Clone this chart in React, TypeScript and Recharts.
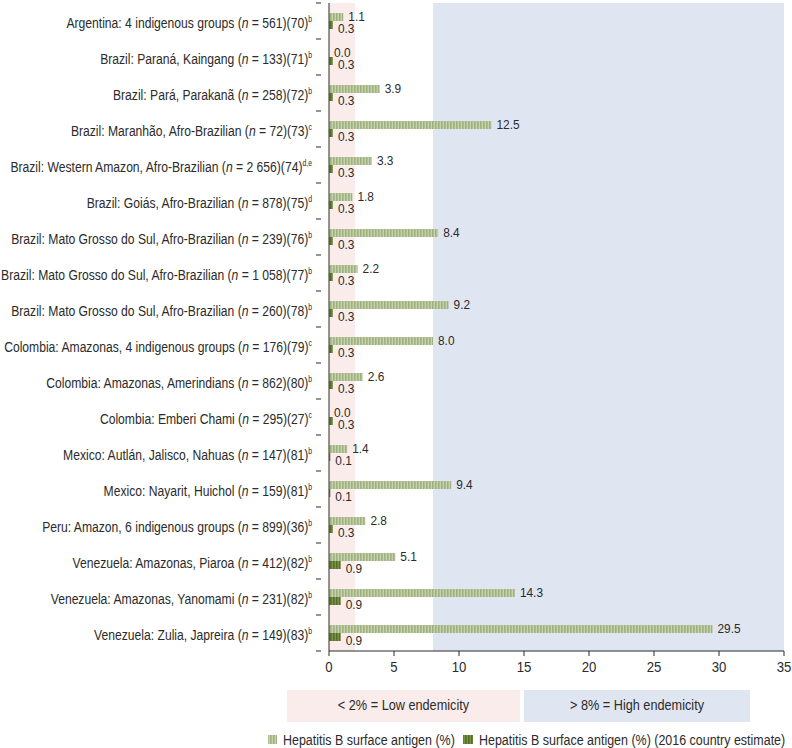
import React from "react";
import { BarChart, Bar, XAxis, YAxis, ReferenceArea, LabelList } from "recharts";

const sites = [
  "Argentina: 4 indigenous groups",
  "Brazil: Paraná, Kaingang",
  "Brazil: Pará, Parakanã",
  "Brazil: Maranhão, Afro-Brazilian",
  "Brazil: Western Amazon, Afro-Brazilian",
  "Brazil: Goiás, Afro-Brazilian",
  "Brazil: Mato Grosso do Sul, Afro-Brazilian",
  "Brazil: Mato Grosso do Sul, Afro-Brazilian",
  "Brazil: Mato Grosso do Sul, Afro-Brazilian",
  "Colombia: Amazonas, 4 indigenous groups",
  "Colombia: Amazonas, Amerindians",
  "Colombia: Emberi Chami",
  "Mexico: Autlán, Jalisco, Nahuas",
  "Mexico: Nayarit, Huichol",
  "Peru: Amazon, 6 indigenous groups",
  "Venezuela: Amazonas, Piaroa",
  "Venezuela: Amazonas, Yanomami",
  "Venezuela: Zulia, Japreira",
];
const sampleSizes = ["561", "133", "258", "72", "2 656", "878", "239", "1 058", "260", "176", "862", "295", "147", "159", "899", "412", "231", "149"];
const refs = ["70", "71", "72", "73", "74", "75", "76", "77", "78", "79", "80", "27", "81", "81", "36", "82", "82", "83"];
const notes = ["b", "b", "b", "c", "d,e", "d", "b", "b", "b", "c", "b", "c", "b", "b", "b", "b", "b", "b"];
const hbsag = [1.1, 0.0, 3.9, 12.5, 3.3, 1.8, 8.4, 2.2, 9.2, 8.0, 2.6, 0.0, 1.4, 9.4, 2.8, 5.1, 14.3, 29.5];
const countryEstimate = [0.3, 0.3, 0.3, 0.3, 0.3, 0.3, 0.3, 0.3, 0.3, 0.3, 0.3, 0.3, 0.1, 0.1, 0.3, 0.9, 0.9, 0.9];
const xTicks = [0, 5, 10, 15, 20, 25, 30, 35];
const lowBand = [0, 2];
const highBand = [8, 35];
const bandLabels = ["< 2% = Low endemicity", "> 8% = High endemicity"];
const seriesNames = ["Hepatitis B surface antigen (%)", "Hepatitis B surface antigen (%) (2016 country estimate)"];

const data = sites.map((s, i) => ({
  key: `${s} (n = ${sampleSizes[i]})(${refs[i]})`,
  hbsag: hbsag[i],
  est: countryEstimate[i],
}));

const FONT = '"Liberation Sans", Arial, sans-serif';
const TEXT = "#2b2b2b";
const PINK = "#f9ecea";
const BLUE = "#dfe6f2";
const CHART_H = 690;
const TOP = 3;
const X_AXIS_H = 39;
const BAND = (CHART_H - TOP - X_AXIS_H) / sites.length;

// condensed text: the original uses a narrow Helvetica, so squeeze Liberation Sans
const Narrow = ({ x, y, anchor = "start", size = 14, squeeze = 0.86, children }: any) => (
  <text transform={`translate(${x},${y}) scale(${squeeze},1)`} textAnchor={anchor} fontSize={size} fill={TEXT} fontFamily={FONT}>
    {children}
  </text>
);

const SiteTick = (props: any) => {
  const { x, y, index } = props;
  const last = index === sites.length - 1;
  return (
    <g>
      <line x1={x - 5} x2={x} y1={y - BAND / 2} y2={y - BAND / 2} stroke={TEXT} />
      {last && <line x1={x - 5} x2={x} y1={y + BAND / 2} y2={y + BAND / 2} stroke={TEXT} />}
      <Narrow x={x - 9} y={y + 7} anchor="end" size={15} squeeze={0.81}>
        <tspan>{sites[index]} (</tspan>
        <tspan fontStyle="italic">n</tspan>
        <tspan> = {sampleSizes[index]})({refs[index]})</tspan>
        <tspan fontSize={8.5} dy={-6}>{notes[index]}</tspan>
      </Narrow>
    </g>
  );
};

const ValueTick = (props: any) => {
  const { x, y, payload } = props;
  return (
    <Narrow x={x} y={y + 14} anchor="middle" size={15.5} squeeze={0.85}>
      {payload.value}
    </Narrow>
  );
};

const valueLabel = (dy: number) => (props: any) => {
  const { x, y, width, height, value } = props;
  return (
    <Narrow x={x + Math.max(width, 0) + 5} y={y + height / 2 + dy} size={13.5} squeeze={0.88}>
      {Number(value).toFixed(1)}
    </Narrow>
  );
};

export default function App() {
  return (
    <div style={{ position: "absolute", left: 0, top: 0, width: 792, height: 748, background: "#fff", fontFamily: FONT }}>
      <BarChart
        width={792}
        height={CHART_H}
        data={data}
        layout="vertical"
        margin={{ top: TOP, right: 8, left: 0, bottom: 0 }}
        barGap={0}
        barSize={8}
      >
        <defs>
          <pattern id="lightStripes" width="3" height="8" patternUnits="userSpaceOnUse">
            <rect width="3" height="8" fill="#c6d1b0" />
            <rect width="1.6" height="8" fill="#9fb27d" />
          </pattern>
          <pattern id="darkStripes" width="3" height="8" patternUnits="userSpaceOnUse">
            <rect width="3" height="8" fill="#7a9448" />
            <rect width="1.6" height="8" fill="#556f2a" />
          </pattern>
        </defs>
        <ReferenceArea x1={lowBand[0]} x2={lowBand[1]} fill={PINK} fillOpacity={1} stroke="none" />
        <ReferenceArea x1={highBand[0]} x2={highBand[1]} fill={BLUE} fillOpacity={1} stroke="none" />
        <XAxis
          type="number"
          domain={[0, 35]}
          ticks={xTicks}
          height={X_AXIS_H}
          tick={<ValueTick />}
          tickSize={5}
          stroke={TEXT}
          interval={0}
        />
        <YAxis
          type="category"
          dataKey="key"
          width={329}
          tick={<SiteTick />}
          tickLine={false}
          stroke={TEXT}
          interval={0}
        />
        <Bar dataKey="hbsag" fill="url(#lightStripes)" minPointSize={0.01} isAnimationActive={false}>
          <LabelList dataKey="hbsag" content={valueLabel(4)} />
        </Bar>
        <Bar dataKey="est" fill="url(#darkStripes)" isAnimationActive={false}>
          <LabelList dataKey="est" content={valueLabel(7.5)} />
        </Bar>
      </BarChart>
      <svg width={792} height={58} style={{ position: "absolute", left: 0, top: CHART_H }}>
        <defs>
          <pattern id="lightKey" width="3" height="9" patternUnits="userSpaceOnUse">
            <rect width="3" height="9" fill="#c6d1b0" />
            <rect width="1.6" height="9" fill="#9fb27d" />
          </pattern>
          <pattern id="darkKey" width="3" height="9" patternUnits="userSpaceOnUse">
            <rect width="3" height="9" fill="#7a9448" />
            <rect width="1.6" height="9" fill="#556f2a" />
          </pattern>
        </defs>
        <rect x={287} y={-2} width={233} height={34} fill={PINK} />
        <rect x={524} y={-2} width={226} height={34} fill={BLUE} />
        <Narrow x={403.5} y={20} anchor="middle" size={15.5} squeeze={0.82}>{bandLabels[0]}</Narrow>
        <Narrow x={637} y={20} anchor="middle" size={15.5} squeeze={0.82}>{bandLabels[1]}</Narrow>
        <rect x={268} y={45} width={9} height={9} fill="url(#lightKey)" />
        <Narrow x={283} y={55} size={14.5} squeeze={0.86}>{seriesNames[0]}</Narrow>
        <rect x={463} y={45} width={10} height={9} fill="url(#darkKey)" />
        <Narrow x={479} y={55} size={14.5} squeeze={0.86}>{seriesNames[1]}</Narrow>
      </svg>
    </div>
  );
}
